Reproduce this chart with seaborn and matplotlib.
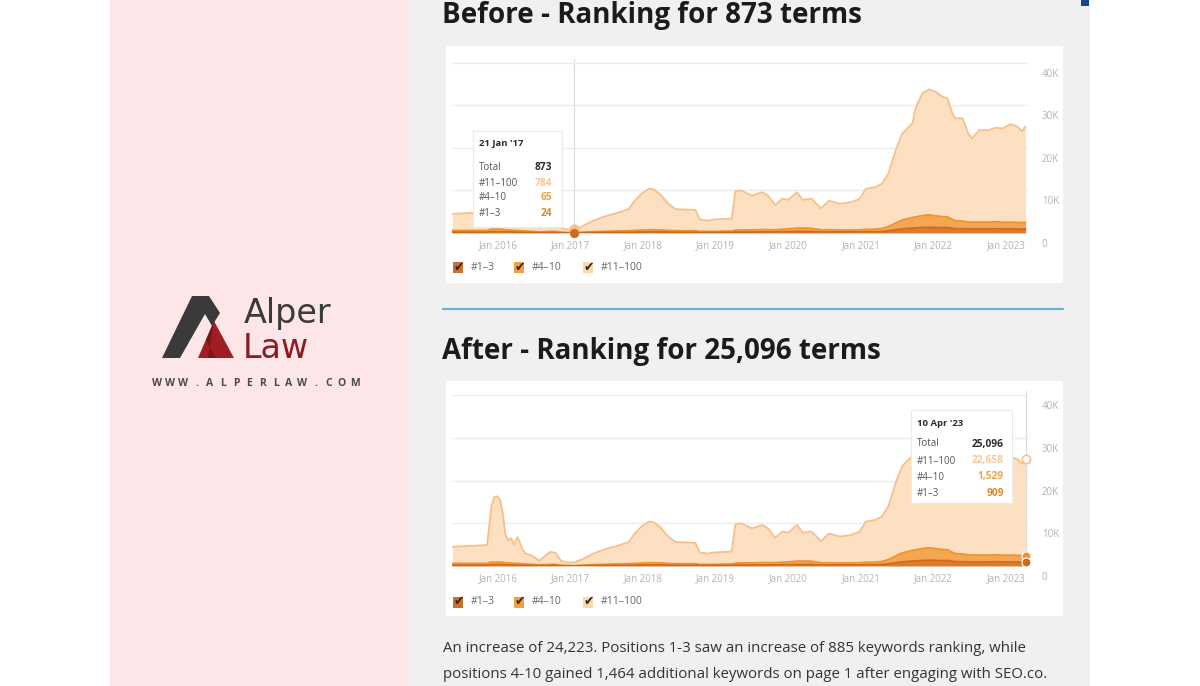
import numpy as np
import pandas as pd
import matplotlib
matplotlib.use("Agg")
import matplotlib.pyplot as plt
from matplotlib.patches import Rectangle, Polygon
from matplotlib.transforms import ScaledTranslation
import seaborn as sns

sns.set_style("white")
plt.rcParams['font.family'] = ['Open Sans', 'DejaVu Sans']

# ---------------- data (thousands of keywords) ----------------
t_years = [2015.37, 2015.60, 2015.85, 2015.87, 2015.91, 2015.95, 2015.99, 2016.03, 2016.07, 2016.10,
           2016.14, 2016.18, 2016.22, 2016.27, 2016.31, 2016.37, 2016.47, 2016.57, 2016.65, 2016.72,
           2016.79, 2016.87, 2016.96, 2017.05, 2017.15, 2017.30, 2017.45, 2017.62, 2017.80, 2017.88,
           2017.98, 2018.08, 2018.14, 2018.24, 2018.35, 2018.45, 2018.60, 2018.72, 2018.78, 2018.88,
           2018.99, 2019.15, 2019.22, 2019.27, 2019.35, 2019.50, 2019.64, 2019.72, 2019.82, 2019.92,
           2020.00, 2020.12, 2020.20, 2020.32, 2020.45, 2020.56, 2020.71, 2020.85, 2020.98, 2021.07,
           2021.20, 2021.29, 2021.38, 2021.48, 2021.57, 2021.71, 2021.76, 2021.85, 2021.94, 2022.03,
           2022.12, 2022.19, 2022.26, 2022.30, 2022.40, 2022.48, 2022.53, 2022.63, 2022.76, 2022.86,
           2022.95, 2023.06, 2023.16, 2023.22, 2023.27]
total_k = [4.5, 4.7, 4.9, 8.0, 14.0, 16.2, 16.3, 15.5, 12.0, 7.5,
           6.0, 6.5, 5.0, 6.8, 5.0, 3.0, 2.4, 1.2, 2.4, 3.3,
           3.1, 1.2, 0.8, 0.873, 1.5, 2.8, 3.8, 4.6, 5.6, 7.5,
           9.3, 10.4, 10.3, 9.0, 6.8, 5.6, 5.5, 5.4, 3.2, 2.9,
           3.2, 3.3, 3.4, 9.8, 10.0, 8.8, 9.6, 8.8, 6.6, 8.1,
           7.8, 9.6, 7.8, 8.1, 5.8, 7.6, 6.9, 7.2, 8.0, 10.4,
           10.8, 11.6, 14.0, 19.5, 23.4, 25.8, 29.7, 32.9, 33.8, 33.2,
           32.1, 31.7, 28.2, 27.0, 27.0, 23.4, 22.2, 24.2, 24.2, 24.8,
           24.6, 25.6, 25.0, 23.9, 25.096]
pos1_3_k = [0.20, 0.20, 0.20, 0.25, 0.30, 0.30, 0.30, 0.30, 0.30, 0.25,
            0.25, 0.25, 0.20, 0.20, 0.20, 0.15, 0.12, 0.08, 0.10, 0.12,
            0.12, 0.06, 0.03, 0.024, 0.05, 0.10, 0.12, 0.15, 0.18, 0.20,
            0.22, 0.25, 0.25, 0.25, 0.20, 0.18, 0.18, 0.18, 0.12, 0.12,
            0.12, 0.15, 0.15, 0.20, 0.22, 0.22, 0.25, 0.25, 0.25, 0.28,
            0.30, 0.35, 0.35, 0.35, 0.25, 0.25, 0.25, 0.25, 0.25, 0.30,
            0.30, 0.35, 0.50, 0.75, 0.95, 1.15, 1.20, 1.30, 1.35, 1.30,
            1.25, 1.30, 1.10, 1.00, 1.00, 0.95, 0.95, 0.95, 0.95, 1.00,
            0.95, 0.95, 0.92, 0.92, 0.909]
pos4_10_k = [0.40, 0.40, 0.40, 0.50, 0.60, 0.60, 0.60, 0.60, 0.55, 0.50,
             0.45, 0.45, 0.40, 0.40, 0.35, 0.30, 0.25, 0.15, 0.20, 0.25,
             0.25, 0.12, 0.07, 0.065, 0.12, 0.20, 0.25, 0.30, 0.35, 0.40,
             0.45, 0.50, 0.50, 0.45, 0.40, 0.35, 0.35, 0.35, 0.25, 0.25,
             0.25, 0.30, 0.30, 0.45, 0.50, 0.50, 0.55, 0.55, 0.50, 0.60,
             0.65, 0.80, 0.80, 0.75, 0.50, 0.50, 0.45, 0.45, 0.50, 0.55,
             0.60, 0.70, 1.00, 1.60, 2.10, 2.50, 2.60, 2.80, 2.90, 2.75,
             2.60, 2.50, 2.10, 1.90, 1.80, 1.65, 1.60, 1.60, 1.60, 1.65,
             1.55, 1.60, 1.55, 1.55, 1.529]

year_ticks = [2016, 2017, 2018, 2019, 2020, 2021, 2022, 2023]
year_labels = ["Jan 2016", "Jan 2017", "Jan 2018", "Jan 2019", "Jan 2020", "Jan 2021", "Jan 2022", "Jan 2023"]
value_ticks = [0, 10, 20, 30, 40]
value_labels = ["0", "10K", "20K", "30K", "40K"]
series_names = ["#1–3", "#4–10", "#11–100"]

before_title = "Before - Ranking for 873 terms"
after_title = "After - Ranking for 25,096 terms"
before_tip_date = "21 Jan '17"
before_tip_values = ["873", "784", "65", "24"]
after_tip_date = "10 Apr '23"
after_tip_values = ["25,096", "22,658", "1,529", "909"]
tip_rows = ["Total", "#11–100", "#4–10", "#1–3"]
before_cursor = 2017.05
after_cursor = 2023.27
paragraph = ["An increase of 24,223. Positions 1-3 saw an increase of 885 keywords ranking, while",
             "positions 4-10 gained 1,464 additional keywords on page 1 after engaging with SEO.co."]

# ---------------- styling ----------------
W, H = 1200, 686
C_TOP_FILL, C_TOP_LINE = "#fde0c2", "#f6c08a"
C_MID_FILL, C_MID_LINE = "#f5a652", "#f0912e"
C_BOT_FILL, C_BOT_LINE = "#de7a2c", "#cf6a1c"
TIP_COLORS = ["#2b2b2b", "#f8c796", "#f0a03e", "#e0872c"]
BOX_COLORS = ["#c9702e", "#f0a040", "#fbd9ad"]

t = np.array(t_years)
b1 = np.array(pos1_3_k)
b2 = b1 + np.array(pos4_10_k)
tot = np.array(total_k)

fig = plt.figure(figsize=(W / 100, H / 100), dpi=100, facecolor="white")


def rect(x0, y0, x1, y1):
    return [x0 / W, 1 - y1 / H, (x1 - x0) / W, (y1 - y0) / H]


bg = fig.add_axes([0, 0, 1, 1], zorder=0)
bg.set_xlim(0, W)
bg.set_ylim(H, 0)
bg.axis("off")
bg.add_patch(Rectangle((110, 0), 298, H, color="#fde6e8", lw=0))
bg.add_patch(Rectangle((408, 0), 682, H, color="#f0f0f0", lw=0))
bg.add_patch(Rectangle((1081, 0), 8, 6, color="#1d3f8f", lw=0))
bg.add_patch(Rectangle((446, 46), 617, 237, color="white", lw=0))
bg.add_patch(Rectangle((446, 381), 617, 235, color="white", lw=0))
bg.plot([443, 1063], [309, 309], color="#62b9cc", lw=1.6)

bg.text(442, 16, before_title, fontsize=20, fontweight="bold", color="#1b1b1b", va="center", ha="left")
bg.text(442, 351, after_title, fontsize=20, fontweight="bold", color="#1b1b1b", va="center", ha="left")
for i, line in enumerate(paragraph):
    bg.text(443, 648 + 26 * i, line, fontsize=10.8, color="#333333", va="center", ha="left")

# logo
bg.add_patch(Polygon([(162, 358), (180, 358), (205, 314), (212, 326), (220, 313), (209, 296), (192, 296)],
                     closed=True, color="#3a3a3a", lw=0))
bg.add_patch(Polygon([(214, 321), (234, 358), (198, 358)], closed=True, color="#a11d24", lw=0))
bg.add_patch(Polygon([(214, 321), (206, 340), (216, 358), (208, 358)], closed=True, color="#7a151b", lw=0))
bg.text(244, 323, "Alper", fontsize=24, color="#3a3a3a", va="baseline", ha="left", family=["DejaVu Sans"])
bg.text(243, 358, "Law", fontsize=24, color="#8e1b22", va="baseline", ha="left", family=["DejaVu Sans"])
url = "WWW.ALPERLAW.COM"
for i, ch in enumerate(url):
    bg.text(157 + i * 13.2, 384, ch, fontsize=7.5, fontweight="bold", color="#4a4a4a", va="center", ha="center")


def draw_chart(px_left, px_right, px_base, px_per_k, legend_y):
    top_px = px_base - 41 * px_per_k
    ax = fig.add_axes(rect(px_left, top_px, px_right, px_base), zorder=1)
    ax.set_facecolor("none")
    ax.fill_between(t, b2, tot, color=C_TOP_FILL, lw=0)
    ax.fill_between(t, b1, b2, color=C_MID_FILL, lw=0)
    ax.fill_between(t, 0, b1, color=C_BOT_FILL, lw=0)
    long = pd.DataFrame({
        "t": np.concatenate([t, t, t]),
        "v": np.concatenate([tot, b2, b1]),
        "series": ["#11–100"] * len(t) + ["#4–10"] * len(t) + ["#1–3"] * len(t),
    })
    sns.lineplot(data=long, x="t", y="v", hue="series", estimator=None, sort=False,
                 palette={"#11–100": C_TOP_LINE, "#4–10": C_MID_LINE, "#1–3": C_BOT_LINE},
                 linewidth=1.3, legend=False, ax=ax)
    ax.set_xlim(2015.366, 2023.303)
    ax.set_ylim(0, 41)
    ax.set_xlabel("")
    ax.set_ylabel("")
    ax.set_xticks(year_ticks)
    ax.set_xticklabels(year_labels)
    ax.yaxis.tick_right()
    ax.set_yticks(value_ticks)
    ax.set_yticklabels(value_labels)
    ax.tick_params(axis="x", length=0, pad=5, labelsize=7, labelcolor="#b3b3b3")
    ax.tick_params(axis="y", length=0, pad=10, labelsize=7, labelcolor="#b3b3b3")
    off = ScaledTranslation(0, -10 / 100, fig.dpi_scale_trans)
    for lab in ax.get_yticklabels():
        lab.set_transform(lab.get_transform() + off)
    ax.yaxis.grid(True, color="#ececec", lw=1)
    ax.xaxis.grid(False)
    for s in ax.spines.values():
        s.set_visible(False)
    ax.set_axisbelow(True)
    # legend with checkboxes
    for i, (bx, lx) in enumerate([(453, 471), (514, 532), (583, 601)]):
        bg.add_patch(Rectangle((bx, legend_y - 5.5), 10, 11, color=BOX_COLORS[i], lw=0))
        bg.text(bx + 5.5, legend_y, "✔", fontsize=9, color="#3a2412", va="center", ha="center",
                family=["DejaVu Sans"])
        bg.text(lx, legend_y, series_names[i], fontsize=7.5, color="#666666", va="center", ha="left")
    return ax


ax1 = draw_chart(452, 1028, 233, 4.25, 267)
ax2 = draw_chart(452, 1028, 566, 4.27, 602)

# cursor lines and markers
i0 = t_years.index(before_cursor)
ax1.axvline(before_cursor, color="#d9d9d9", lw=0.9, zorder=0)
ax1.scatter([before_cursor], [tot[i0]], s=40, color=C_TOP_LINE, zorder=5, clip_on=False)
ax1.scatter([before_cursor], [b2[i0]], s=34, color=C_MID_LINE, zorder=5, clip_on=False)
ax1.scatter([before_cursor], [b1[i0]], s=26, color=C_BOT_LINE, zorder=6, clip_on=False)

i1 = t_years.index(after_cursor)
ax2.axvline(after_cursor, color="#d9d9d9", lw=0.9, zorder=0)
ax2.scatter([after_cursor], [tot[i1]], s=36, facecolor="white", edgecolor=C_TOP_LINE, lw=1.2, zorder=5, clip_on=False)
ax2.scatter([after_cursor], [b2[i1]], s=42, color=C_MID_LINE, edgecolor="white", lw=0.8, zorder=5, clip_on=False)
ax2.scatter([after_cursor], [b1[i1]], s=42, color=C_BOT_LINE, edgecolor="white", lw=0.8, zorder=6, clip_on=False)

# tooltips on overlay
ov = fig.add_axes([0, 0, 1, 1], zorder=3)
ov.set_xlim(0, W)
ov.set_ylim(H, 0)
ov.axis("off")
ov.patch.set_alpha(0)


def tooltip(x0, y0, x1, y1, date, values, row_ys, val_x):
    ov.add_patch(Rectangle((x0, y0), x1 - x0, y1 - y0, facecolor="white", edgecolor="#ebebeb", lw=0.8))
    ov.text(x0 + 6, y0 + 13, date, fontsize=6.8, fontweight="bold", color="#2b2b2b", va="center", ha="left")
    for j, (row, val) in enumerate(zip(tip_rows, values)):
        ov.text(x0 + 6, row_ys[j], row, fontsize=7, color="#555555", va="center", ha="left")
        ov.text(val_x, row_ys[j], val, fontsize=7.3, fontweight="bold", color=TIP_COLORS[j], va="center", ha="right")


tooltip(473, 131, 562, 227, before_tip_date, before_tip_values, [167, 183, 198, 214], 552)
tooltip(911, 410, 1012, 503, after_tip_date, after_tip_values, [444, 461, 477, 493], 1004)

fig.savefig("out.png", dpi=100, facecolor="white")
